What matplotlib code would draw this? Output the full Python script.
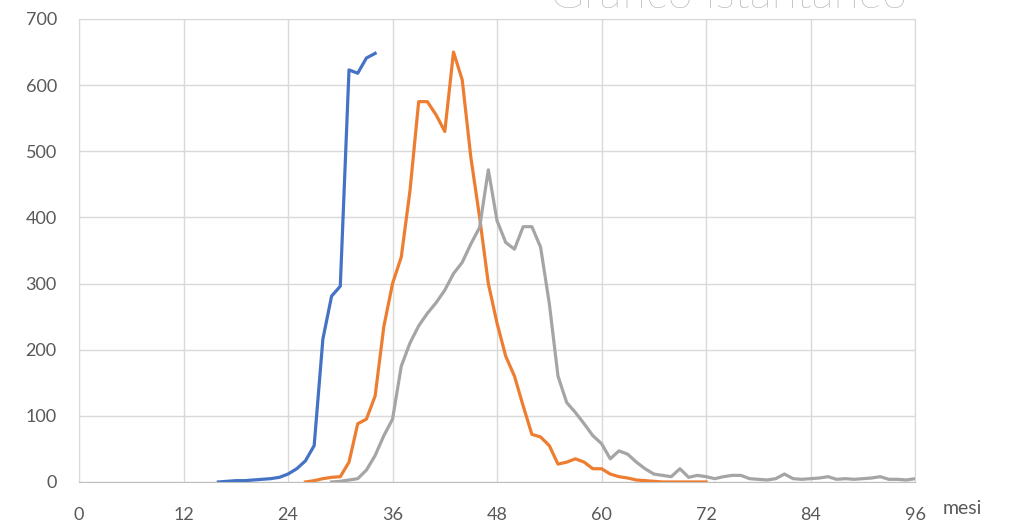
import numpy as np
import matplotlib
matplotlib.use("Agg")
import matplotlib.pyplot as plt

plt.rcParams['font.family'] = ['Lato', 'DejaVu Sans']

# months on the x axis
blue_x = list(range(16, 35))
blue_y = [0, 1, 2, 2, 3, 4, 5, 7, 12, 20, 32, 55, 216, 281, 296, 623, 618, 641, 648]

orange_x = list(range(26, 73))
orange_y = [0, 2, 5, 7, 8, 30, 88, 95, 130, 235, 300, 340, 440, 575, 575, 555, 530,
            650, 608, 490, 400, 300, 240, 190, 160, 115, 72, 68, 55, 27, 30, 35, 30,
            20, 20, 12, 8, 6, 3, 2, 1, 0, 0, 0, 0, 0, 0]

gray_x = list(range(29, 97))
gray_y = [0, 1, 3, 5, 18, 40, 70, 95, 175, 210, 236, 255, 271, 290, 315, 332, 360,
          385, 472, 395, 362, 352, 386, 386, 355, 270, 160, 120, 105, 88, 70, 58, 35,
          47, 42, 30, 20, 12, 10, 8, 20, 7, 10, 8, 5, 8, 10, 10, 5, 4, 3, 5, 12, 5,
          4, 5, 6, 8, 4, 5, 4, 5, 6, 8, 4, 4, 3, 5]

x_ticks = [0, 12, 24, 36, 48, 60, 72, 84, 96]
y_ticks = [0, 100, 200, 300, 400, 500, 600, 700]

fig = plt.figure(figsize=(10.12, 5.26), dpi=100)
ax = fig.add_axes([0.0781, 0.0837, 0.8261, 0.8802])

ax.plot(blue_x, blue_y, color='#4472C4', lw=2.3, zorder=3)
ax.plot(orange_x, orange_y, color='#ED7D31', lw=2.3, zorder=3)
ax.plot(gray_x, gray_y, color='#A5A5A5', lw=2.3, zorder=3)

ax.set_xlim(0, 96)
ax.set_ylim(0, 700)
ax.set_xticks(x_ticks)
ax.set_yticks(y_ticks)
ax.grid(True, color='#D9D9D9', lw=1)
ax.tick_params(length=0, labelsize=13, labelcolor='#595959')
ax.tick_params(axis='x', pad=18)
ax.tick_params(axis='y', pad=16)
for s in ax.spines.values():
    s.set_color('#D9D9D9')
ax.spines['bottom'].set_color('#BFBFBF')

fig.text(0.951, 0.0342, 'mesi', fontsize=14, color='#595959', ha='center', va='center')
# title sits mostly above the top edge, as in the original screenshot
fig.text(0.897, 0.984, 'Grafico istantaneo', fontsize=33, color='#999999',
         ha='right', va='baseline', fontweight='light')

fig.savefig('out.png', dpi=100)
